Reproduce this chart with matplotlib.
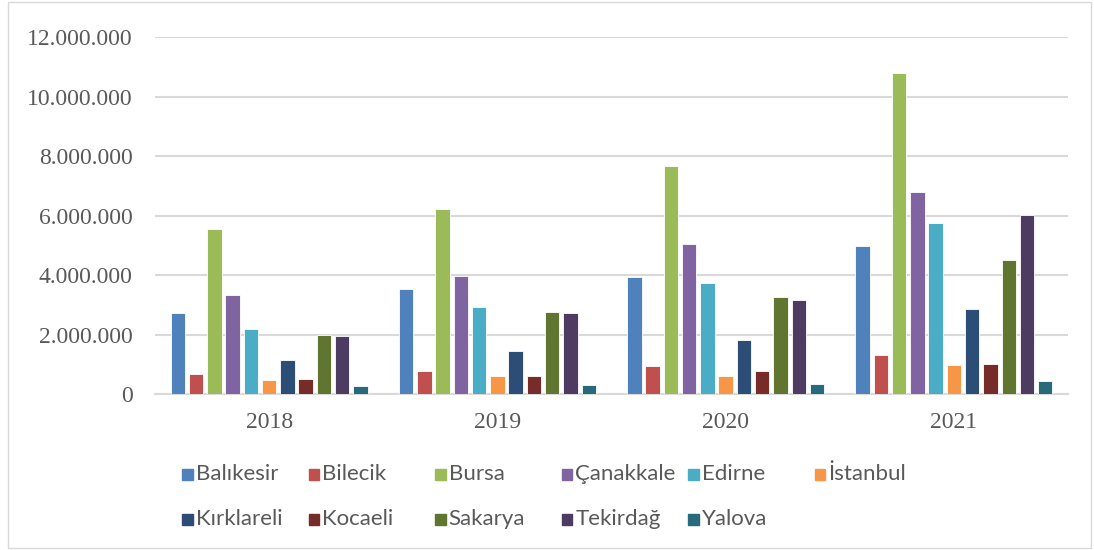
import numpy as np
import matplotlib.pyplot as plt
from matplotlib.patches import Rectangle
from matplotlib.ticker import FuncFormatter

years = ["2018", "2019", "2020", "2021"]
provinces = ["Balıkesir", "Bilecik", "Bursa", "Çanakkale", "Edirne", "İstanbul",
             "Kırklareli", "Kocaeli", "Sakarya", "Tekirdağ", "Yalova"]
colors = ["#4F81BD", "#C0504D", "#9BBB59", "#8064A2", "#4BACC6", "#F79646",
          "#2C4D75", "#772C2A", "#5F7530", "#4D3B62", "#276A7C"]

# values per province, one entry per year
balikesir = [2710000, 3520000, 3920000, 4970000]
bilecik = [670000, 770000, 950000, 1320000]
bursa = [5540000, 6220000, 7650000, 10790000]
canakkale = [3320000, 3980000, 5040000, 6780000]
edirne = [2170000, 2920000, 3720000, 5760000]
istanbul = [470000, 590000, 620000, 970000]
kirklareli = [1150000, 1430000, 1820000, 2850000]
kocaeli = [500000, 600000, 760000, 1010000]
sakarya = [1980000, 2750000, 3250000, 4510000]
tekirdag = [1950000, 2730000, 3160000, 6010000]
yalova = [260000, 300000, 330000, 450000]
series = [balikesir, bilecik, bursa, canakkale, edirne, istanbul,
          kirklareli, kocaeli, sakarya, tekirdag, yalova]

fig = plt.figure(figsize=(10.94, 5.5), dpi=100)
ax = fig.add_axes([0.1417, 0.2836, 0.8346, 0.649])

x = np.arange(len(years))
step = 0.080
width = 0.063
for i, vals in enumerate(series):
    ax.bar(x + (i - 5) * step, vals, width, color=colors[i],
           edgecolor="white", linewidth=0.6, zorder=3)

ax.set_xlim(-0.5, 3.5)
ax.set_ylim(0, 12000000)
ax.set_yticks(np.arange(0, 12000001, 2000000))
ax.yaxis.set_major_formatter(FuncFormatter(lambda v, p: f"{int(v):,}".replace(",", ".")))
ax.set_xticks(x)
ax.set_xticklabels(years)
ax.grid(axis="y", color="#D9D9D9", linewidth=1.5, zorder=0)
for s in ["top", "right", "left"]:
    ax.spines[s].set_visible(False)
ax.spines["bottom"].set_color("#D9D9D9")
ax.spines["bottom"].set_linewidth(1.5)
ax.tick_params(length=0, labelsize=17, labelcolor="#595959")
ax.tick_params(axis="y", pad=16)
ax.tick_params(axis="x", pad=13)
for lab in ax.get_xticklabels() + ax.get_yticklabels():
    lab.set_family("Liberation Serif")

# legend, row-major as in the original
for i, name in enumerate(provinces):
    row, col = divmod(i, 6)
    lx = (182 + col * 126.5) / 1094
    ly = 1 - (474 + row * 45) / 550
    fig.patches.append(Rectangle((lx, ly - 0.0115), 0.0100, 0.02,
                                 transform=fig.transFigure, color=colors[i]))
    fig.text(lx + 0.0125, ly, name, fontsize=16, family="Lato",
             color="#595959", va="center")

fig.patches.append(Rectangle((0.0075, 0.003), 0.99, 0.994, transform=fig.transFigure,
                             fill=False, edgecolor="#D9D9D9", linewidth=1))

fig.savefig("out.png", dpi=100)
